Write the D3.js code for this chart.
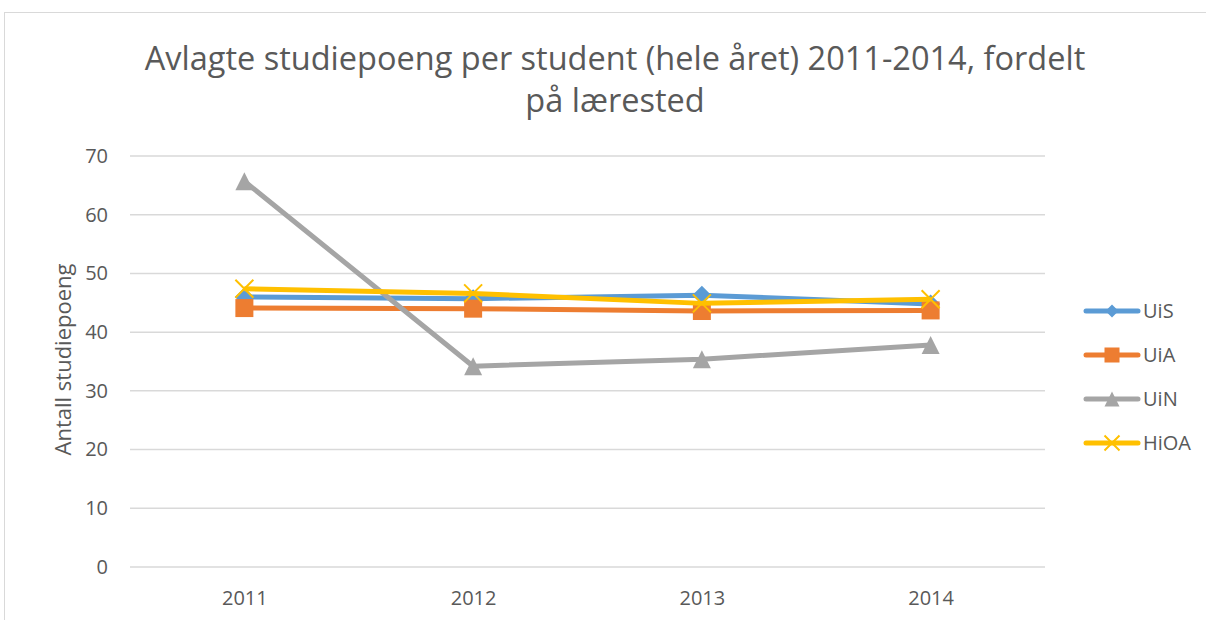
<!DOCTYPE html>
<html>
<head>
<meta charset="utf-8">
<script src="https://cdn.jsdelivr.net/npm/d3@7"></script>
<style>
  body { margin: 0; background: #fff; }
  text { font-family: "Open Sans", "Noto Sans", sans-serif; fill: #595959; }
</style>
</head>
<body>
<div id="chart"></div>
<script>
// data
var years = ["2011", "2012", "2013", "2014"];
var seriesNames = ["UiS", "UiA", "UiN", "HiOA"];
var uis = [46.0, 45.7, 46.3, 44.8];
var uia = [44.1, 44.0, 43.6, 43.7];
var uin = [65.7, 34.2, 35.4, 37.8];
var hioa = [47.4, 46.6, 44.9, 45.6];
var yTicks = [0, 10, 20, 30, 40, 50, 60, 70];
var colors = ["#5b9bd5", "#ed7d31", "#a5a5a5", "#ffc000"];
var shapes = ["diamond", "square", "triangle", "cross"];

var series = seriesNames.map(function(name, i) {
  return { name: name, values: [uis, uia, uin, hioa][i], color: colors[i], shape: shapes[i] };
});

var W = 1206, H = 620;
var margin = {top: 156, right: 161, bottom: 53, left: 130};
var width = W - margin.left - margin.right,
    height = H - margin.top - margin.bottom;

var svg = d3.select("#chart").append("svg")
  .attr("width", W).attr("height", H);

// chart frame
svg.append("rect")
  .attr("x", 4.5).attr("y", 12.5)
  .attr("width", W + 10).attr("height", H + 10)
  .attr("fill", "none").attr("stroke", "#d9d9d9").attr("stroke-width", 1);

// title
var title = svg.append("text")
  .attr("text-anchor", "middle")
  .attr("font-size", "32.5px");
title.append("tspan").attr("x", 615).attr("y", 70)
  .text("Avlagte studiepoeng per student (hele året) 2011-2014, fordelt");
title.append("tspan").attr("x", 615).attr("y", 112)
  .text("på lærested");

var g = svg.append("g")
  .attr("transform", "translate(" + margin.left + "," + margin.top + ")");

var x = d3.scalePoint().domain(years).range([0, width]).padding(0.5);
var y = d3.scaleLinear().domain([0, 70]).range([height, 0]);

// gridlines
g.selectAll("line.grid")
  .data(yTicks)
  .enter().append("line")
    .attr("class", "grid")
    .attr("x1", 0).attr("x2", width)
    .attr("y1", function(d) { return y(d); })
    .attr("y2", function(d) { return y(d); })
    .attr("stroke", "#d9d9d9").attr("stroke-width", 1.5);

// y axis labels
var yAxis = g.append("g")
  .call(d3.axisLeft(y).tickValues(yTicks).tickSize(0).tickPadding(22));
yAxis.select(".domain").remove();
yAxis.selectAll("text").attr("font-size", "20px").attr("fill", "#595959")
  .style("font-family", "'Open Sans', sans-serif");

// x axis labels
var xAxis = g.append("g")
  .attr("transform", "translate(0," + height + ")")
  .call(d3.axisBottom(x).tickSize(0).tickPadding(24));
xAxis.select(".domain").remove();
xAxis.selectAll("text").attr("font-size", "20px").attr("fill", "#595959")
  .style("font-family", "'Open Sans', sans-serif");

// y axis title
svg.append("text")
  .attr("transform", "translate(71," + (margin.top + height / 2 - 2) + ") rotate(-90)")
  .attr("text-anchor", "middle")
  .attr("font-size", "22px")
  .text("Antall studiepoeng");

function marker(sel, shape, color, size) {
  if (shape == "diamond") {
    sel.append("path")
      .attr("d", "M0,-" + size + "L" + size + ",0L0," + size + "L-" + size + ",0Z")
      .attr("fill", color);
  } else if (shape == "square") {
    sel.append("rect")
      .attr("x", -size).attr("y", -size)
      .attr("width", size * 2).attr("height", size * 2)
      .attr("fill", color);
  } else if (shape == "triangle") {
    sel.append("path")
      .attr("d", "M0,-" + size + "L" + size + "," + size + "L-" + size + "," + size + "Z")
      .attr("fill", color);
  } else {
    sel.append("path")
      .attr("d", "M-" + size + ",-" + size + "L" + size + "," + size + "M" + size + ",-" + size + "L-" + size + "," + size)
      .attr("stroke", color).attr("stroke-width", 2).attr("fill", "none");
  }
}

var line = d3.line()
  .x(function(d, i) { return x(years[i]); })
  .y(function(d) { return y(d); });

series.forEach(function(s) {
  g.append("path")
    .datum(s.values)
    .attr("d", line)
    .attr("fill", "none")
    .attr("stroke", s.color)
    .attr("stroke-width", 5)
    .attr("stroke-linejoin", "round");

  s.values.forEach(function(v, i) {
    var m = g.append("g")
      .attr("transform", "translate(" + x(years[i]) + "," + y(v) + ")");
    marker(m, s.shape, s.color, s.shape == "diamond" ? 9.5 : 9);
  });
});

// legend
var legend = svg.append("g").attr("transform", "translate(1084,311)");
series.forEach(function(s, i) {
  var row = legend.append("g").attr("transform", "translate(0," + (i * 44) + ")");
  row.append("line")
    .attr("x1", 2).attr("x2", 54)
    .attr("stroke", s.color).attr("stroke-width", 5)
    .attr("stroke-linecap", "round");
  var m = row.append("g").attr("transform", "translate(28,0)");
  marker(m, s.shape, s.color, s.shape == "diamond" ? 6.5 : 7.5);
  row.append("text")
    .attr("x", 59).attr("y", 0)
    .attr("dy", "0.35em")
    .attr("font-size", "20px")
    .text(s.name);
});
</script>
</body>
</html>
